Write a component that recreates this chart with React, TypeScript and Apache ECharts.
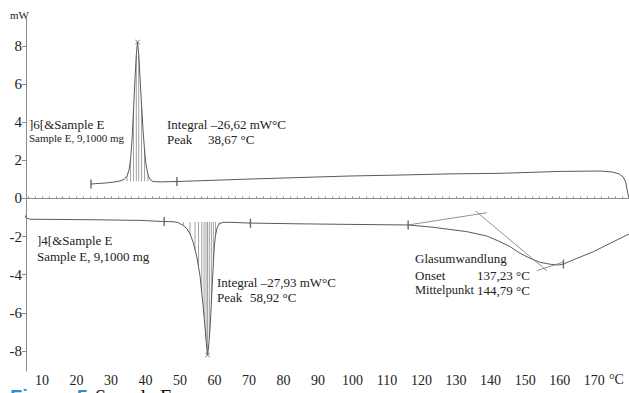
import React, { useEffect, useRef } from "react";
import * as echarts from "echarts";

// x ticks / labels (°C) and y labels (mW)
const xLabelValues = [10, 20, 30, 40, 50, 60, 70, 80, 90, 100, 110, 120, 130, 140, 150, 160, 170];
const xTickValues = [6, 8, 10, 12, 14, 16, 18, 20, 22, 24, 26, 28, 30, 32, 34, 36, 38, 40, 42, 44, 46, 48, 50, 52, 54, 56, 58, 60, 62, 64, 66, 68, 70, 72, 74, 76, 78, 80, 82, 84, 86, 88, 90, 92, 94, 96, 98, 100, 102, 104, 106, 108, 110, 112, 114, 116, 118, 120, 122, 124, 126, 128, 130, 132, 134, 136, 138, 140, 142, 144, 146, 148, 150, 152, 154, 156, 158, 160, 162, 164, 166, 168, 170, 172, 174, 176, 178, 180];
const yLabelValues = [-8, -6, -4, -2, 0, 2, 4, 6, 8];

// Curve "16|&Sample E" (upper)
const upperT = [24.2, 28.3, 31.2, 32.6, 33.8, 34.64, 35.22, 35.65, 36.09, 36.52, 36.96, 37.33, 37.68, 38.03, 38.41, 38.84, 39.28, 39.71, 40.14, 40.72, 41.3, 42.17, 44.2, 49.13, 70.29, 99.28, 113.77, 128.26, 142.75, 160.14, 171.74, 175.22, 177.25, 178.41, 179.13, 179.57, 180.0];
const upperMW = [0.76, 0.81, 0.87, 0.92, 1.0, 1.18, 1.5, 2.02, 3.07, 4.64, 6.32, 7.53, 8.21, 7.53, 6.32, 4.91, 3.59, 2.54, 1.76, 1.23, 1.0, 0.89, 0.87, 0.89, 1.02, 1.18, 1.23, 1.29, 1.32, 1.42, 1.44, 1.39, 1.29, 1.13, 0.87, 0.45, 0.08];

// Curve "14|&Sample E" (lower)
const lowerT = [3.83, 4.58, 5.36, 6.52, 15.22, 26.81, 38.41, 45.36, 47.97, 49.42, 50.96, 52.03, 52.9, 53.77, 54.35, 54.93, 55.36, 55.8, 56.29, 56.67, 56.96, 57.25, 57.54, 57.77, 57.97, 58.2, 58.49, 58.78, 59.07, 59.36, 59.65, 59.94, 60.29, 60.72, 61.3, 62.46, 64.49, 70.29, 84.78, 99.28, 116.09, 123.33, 133.1, 138.9, 142.75, 145.65, 148.55, 151.45, 154.35, 157.25, 159.65, 161.1, 164.99, 169.8, 174.64, 179.48, 180.14];
const lowerMW = [-0.34, -0.69, -1.01, -1.09, -1.1, -1.12, -1.15, -1.21, -1.22, -1.26, -1.42, -1.6, -1.86, -2.28, -2.7, -3.12, -3.58, -4.07, -4.96, -5.59, -6.2, -6.79, -7.42, -7.9, -8.21, -7.9, -7.32, -6.53, -5.48, -4.43, -3.38, -2.49, -1.92, -1.55, -1.34, -1.25, -1.25, -1.29, -1.33, -1.36, -1.39, -1.51, -1.74, -1.97, -2.27, -2.53, -2.88, -3.14, -3.35, -3.45, -3.49, -3.44, -3.14, -2.79, -2.35, -1.92, -1.86];

// Peak integration ranges and baselines
const upperPeakRange = [32.6, 42.2];
const upperBase = 0.9;
const lowerPeakRange = [47.9, 62.5];
const lowerBase = -1.23;

// Integration limit markers
const limitMarkers = [
  [24.2, 0.76], [49.1, 0.89],
  [45.4, -1.21], [70.4, -1.3], [116.1, -1.39], [161.1, -3.44],
];
// Peak tops
const peakMarkers = [[37.68, 8.21], [57.97, -8.21]];

// Glass transition tangents
const tangentBefore = [[116.1, -1.39], [138.9, -0.75]];
const tangentSteep = [[135.65, -0.66], [156.3, -3.79]];
const tangentAfter = [[153.4, -3.79], [161.1, -3.33]];

const zip = (a: number[], b: number[]) => a.map((v, i) => [v, b[i]]);

const hatchData = (t: number[], m: number[], range: number[], base: number) => {
  const out: number[][] = [];
  let k = 0;
  t.forEach((v, i) => {
    if (v >= range[0] && v <= range[1]) {
      if (k % 2 === 0) out.push([v, base, m[i]]);
      k++;
    }
  });
  return out;
};

const SERIF = "Liberation Serif";
const TXT = "#222";
const LINE = "#5a5a5a";

const txt = (x: number, y: number, s: string, size = 13) => ({
  type: "text",
  x,
  y,
  style: {
    text: s,
    fontFamily: SERIF,
    fontSize: size,
    fill: TXT,
    textVerticalAlign: "middle",
    verticalAlign: "middle",
  },
});

export default function App() {
  const ref = useRef<HTMLDivElement>(null);
  useEffect(() => {
    if (!ref.current) return;
    const chart = echarts.init(ref.current, null, { renderer: "svg" });
    const renderHatch = (params: any, api: any) => {
      const x = api.value(0);
      const p1 = api.coord([x, api.value(1)]);
      const p2 = api.coord([x, api.value(2)]);
      return {
        type: "line",
        shape: { x1: p1[0], y1: p1[1], x2: p2[0], y2: p2[1] },
        style: { stroke: "#8a8a8a", lineWidth: 0.8 },
      };
    };
    chart.setOption({
      animation: false,
      backgroundColor: "#fff",
      textStyle: { fontFamily: SERIF },
      grid: { left: 26, right: 0, top: 17, bottom: 22 },
      xAxis: {
        type: "value",
        min: 5.36,
        max: 180.1,
        axisLine: { show: true, lineStyle: { color: "#8c8c8c", width: 1 } },
        axisTick: {
          show: true,
          inside: true,
          length: 2,
          customValues: xTickValues,
          lineStyle: { color: "#8c8c8c" },
        },
        axisLabel: {
          customValues: xLabelValues,
          fontFamily: SERIF,
          fontSize: 14,
          lineHeight: 12,
          color: TXT,
          margin: 3,
        },
        splitLine: { show: false },
      },
      yAxis: {
        type: "value",
        min: -9.05,
        max: 9.52,
        axisLine: { show: true, lineStyle: { color: "#8c8c8c", width: 1 } },
        axisTick: {
          show: true,
          length: 4,
          customValues: yLabelValues,
          lineStyle: { color: "#8c8c8c" },
        },
        axisLabel: {
          customValues: yLabelValues,
          fontFamily: SERIF,
          fontSize: 15,
          color: TXT,
          margin: 4,
        },
        splitLine: { show: false },
      },
      series: [
        {
          type: "custom",
          renderItem: renderHatch,
          data: hatchData(upperT, upperMW, upperPeakRange, upperBase),
          silent: true,
        },
        {
          type: "custom",
          renderItem: renderHatch,
          data: hatchData(lowerT, lowerMW, lowerPeakRange, lowerBase),
          silent: true,
        },
        {
          type: "line",
          data: zip(upperT, upperMW),
          showSymbol: false,
          lineStyle: { color: LINE, width: 1 },
          clip: false,
        },
        {
          type: "line",
          data: zip(lowerT, lowerMW),
          showSymbol: false,
          lineStyle: { color: LINE, width: 1 },
          clip: false,
        },
        ...[tangentBefore, tangentSteep, tangentAfter].map((d) => ({
          type: "line",
          data: d,
          showSymbol: false,
          lineStyle: { color: "#777", width: 0.8 },
        })),
        {
          type: "scatter",
          data: limitMarkers,
          symbol: "rect",
          symbolSize: [1.4, 9],
          itemStyle: { color: "#444" },
        },
        {
          type: "scatter",
          data: peakMarkers,
          symbol:
            "path://M0,1 L1,0 L5,4 L9,0 L10,1 L6,5 L10,9 L9,10 L5,6 L1,10 L0,9 L4,5 Z",
          symbolSize: 5,
          itemStyle: { color: "#555" },
        },
      ],
      graphic: [
        txt(10, 15, "mW", 11),
        txt(609, 379, "°C", 14),
        txt(29, 124, "]6[&Sample E", 13),
        txt(29, 137.5, "Sample E, 9,1000 mg", 11),
        txt(37, 240, "]4[&Sample E", 13),
        txt(37, 256, "Sample E, 9,1000 mg", 13),
        txt(167, 124, "Integral –26,62 mW°C", 13),
        txt(167, 139, "Peak", 13),
        txt(208, 139, "38,67 °C", 13),
        txt(217, 282, "Integral –27,93 mW°C", 13),
        txt(217, 297, "Peak", 13),
        txt(250, 297, "58,92 °C", 13),
        txt(415, 258, "Glasumwandlung", 13),
        txt(415, 275, "Onset", 13),
        txt(477, 275, "137,23 °C", 13),
        txt(415, 290, "Mittelpunkt", 12.5),
        txt(477, 290, "144,79 °C", 13),
        {
          type: "text",
          x: 10,
          y: 387,
          style: {
            text: "Figure 5.",
            fontFamily: "Liberation Sans",
            fontWeight: "bold",
            fontSize: 20,
            fill: "#1f96d8",
            textVerticalAlign: "top",
            verticalAlign: "top",
          },
        },
        {
          type: "text",
          x: 95,
          y: 387,
          style: {
            text: "Sample E",
            fontFamily: SERIF,
            fontSize: 20,
            fill: "#111",
            textVerticalAlign: "top",
            verticalAlign: "top",
          },
        },
      ],
    });
    return () => chart.dispose();
  }, []);
  return (
    <div
      ref={ref}
      style={{ position: "fixed", left: 0, top: 0, width: 629, height: 393, background: "#fff" }}
    />
  );
}
